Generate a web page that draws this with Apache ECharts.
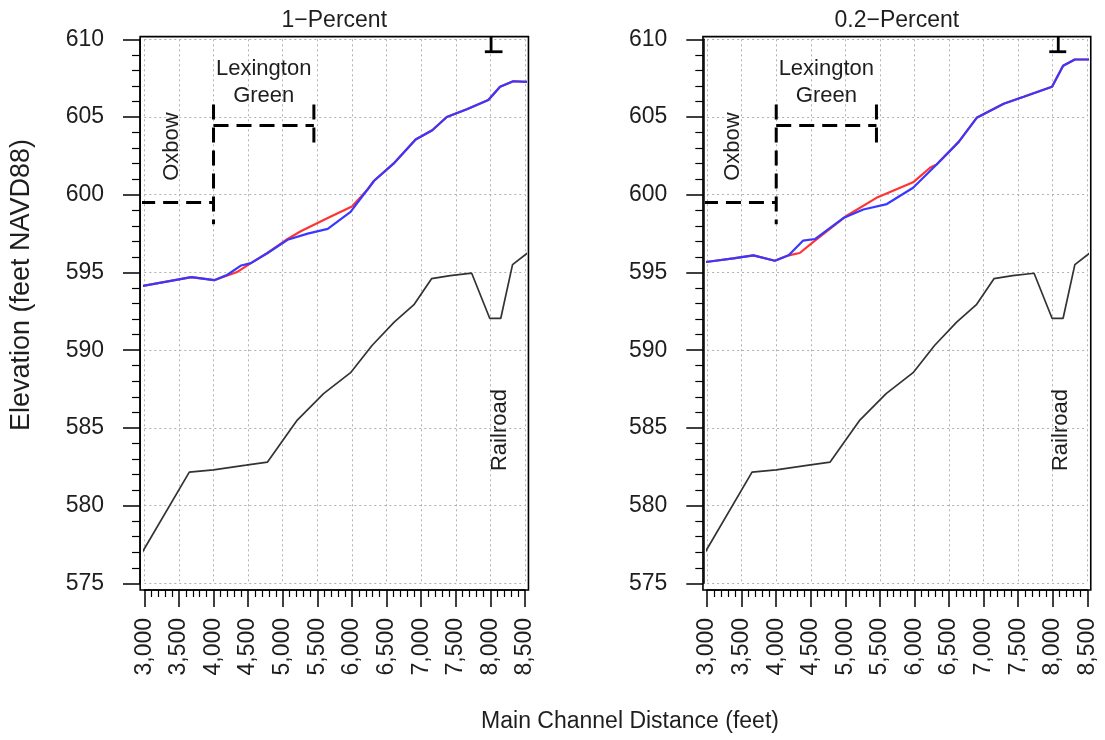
<!DOCTYPE html>
<html>
<head>
<meta charset="utf-8">
<script src="https://cdn.jsdelivr.net/npm/echarts@6/dist/echarts.min.js"></script>
<style>
  html, body { margin: 0; padding: 0; background: #fff; }
  #chart { width: 1105px; height: 740px; }
</style>
</head>
<body>
<div id="chart"></div>
<script>
  // channel invert profile (same in both panels)
  var groundX = [2945, 3650, 4000, 4470, 4780, 5210, 5590, 5980, 6290, 6610, 6900, 7150, 7420, 7730, 7990, 8150, 8320, 8550];
  var groundY = [576.8, 582.15, 582.3, 582.6, 582.8, 585.5, 587.2, 588.55, 590.3, 591.8, 592.95, 594.6, 594.8, 594.95, 592.05, 592.05, 595.5, 596.3];

  // 1-percent water surface
  var p1BlueX = [2945, 3680, 4010, 4200, 4400, 4540, 4780, 5070, 5360, 5650, 5980, 6320, 6600, 6920, 7160, 7370, 7660, 7970, 8140, 8330, 8550];
  var p1BlueY = [594.1, 594.7, 594.5, 594.85, 595.45, 595.6, 596.25, 597.1, 597.5, 597.8, 598.9, 600.9, 602.0, 603.55, 604.15, 605.0, 605.5, 606.1, 606.95, 607.3, 607.25];
  var p1RedX = [2945, 3680, 4010, 4200, 4350, 4540, 4780, 5070, 5260, 5650, 6000, 6220, 6320, 6600, 6920, 7160, 7370, 7660, 7970, 8140, 8330, 8550];
  var p1RedY = [594.1, 594.7, 594.5, 594.8, 595.05, 595.6, 596.25, 597.15, 597.65, 598.5, 599.25, 600.3, 600.9, 602.0, 603.55, 604.15, 605.0, 605.5, 606.1, 606.95, 607.3, 607.25];

  // 0.2-percent water surface
  var p02BlueX = [2945, 3380, 3670, 3980, 4180, 4390, 4560, 4970, 5260, 5600, 5980, 6320, 6640, 6900, 7290, 7580, 7990, 8150, 8320, 8550];
  var p02BlueY = [595.65, 595.9, 596.1, 595.75, 596.1, 597.05, 597.15, 598.5, 599.05, 599.4, 600.45, 601.95, 603.4, 604.95, 605.85, 606.3, 606.95, 608.3, 608.7, 608.7];
  var p02RedX = [2945, 3380, 3670, 3980, 4180, 4340, 4560, 5020, 5450, 5980, 6230, 6320, 6640, 6900, 7290, 7580, 7990, 8150, 8320, 8550];
  var p02RedY = [595.65, 595.9, 596.1, 595.75, 596.1, 596.25, 597.05, 598.65, 599.8, 600.8, 601.75, 601.95, 603.4, 604.95, 605.85, 606.3, 606.95, 608.3, 608.7, 608.7];

  // dashed reach limits: [x1, y1, x2, y2]
  var oxbowLine = [2940, 599.5, 4000, 599.5];
  var leftLimit = [4000, 605.8, 4000, 598.1];
  var greenTop = [4000, 604.45, 5450, 604.45];
  var greenRight = [5450, 605.8, 5450, 602.9];
  // railroad marker, per panel
  var railMarkX = [8010, 8080];
  var railBarX = [[7920, 8175], [7950, 8195]];
  var railMarkY = [610.17, 609.2];

  var panelTitles = ['1\u2212Percent', '0.2\u2212Percent'];
  var textLabels = [['Lexington', 4725, 608.1], ['Green', 4725, 606.35]];
  var rotLabels = [['Oxbow', [3396, 3379], 603.1], ['Railroad', [8141, 8113], 584.86]];

  var boxX = [2940, 8550];
  var boxY = [574.57, 610.17];

  var FONT = 'Liberation Sans, Arial, sans-serif';
  var TXT = '#1e1e1e';

  function zip(xs, ys) {
    return xs.map(function (x, i) { return [x, ys[i]]; });
  }

  var dom = document.getElementById("chart");
  var myChart = echarts.init(dom);

  var grids = [
    { left: 144.3, right: 580, top: 39.3, bottom: 156.7 },
    { left: 707.1, right: 17.7, top: 39.3, bottom: 156.7 }
  ];

  var xAxes = [], yAxes = [], series = [];
  var panels = [
    { blue: zip(p1BlueX, p1BlueY), red: zip(p1RedX, p1RedY) },
    { blue: zip(p02BlueX, p02BlueY), red: zip(p02RedX, p02RedY) }
  ];

  panels.forEach(function (p, i) {
    xAxes.push({
      type: 'value', gridIndex: i, min: 3000, max: 8500, interval: 500, offset: 6.7,
      axisLine: { show: true, lineStyle: { color: '#000', width: 1.5 } },
      axisTick: { show: true, length: 17, lineStyle: { color: '#000', width: 1.5 } },
      minorTick: { show: true, splitNumber: 5, length: 7, lineStyle: { color: '#000', width: 1.2 } },
      axisLabel: {
        rotate: 90, margin: 28, fontSize: 23, color: TXT, fontFamily: FONT,
        formatter: function (v) { return v.toLocaleString('en-US'); }
      },
      splitLine: { show: true, lineStyle: { color: '#b0b0b0', type: [2, 3], width: 1 } }
    });
    yAxes.push({
      type: 'value', gridIndex: i, min: 575, max: 610, interval: 5, offset: i === 0 ? 4.3 : 3.8,
      axisLine: { show: true, lineStyle: { color: '#000', width: 1.5 } },
      axisTick: { show: true, length: 17, lineStyle: { color: '#000', width: 1.5 } },
      minorTick: { show: true, splitNumber: 5, length: 8, lineStyle: { color: '#000', width: 1.2 } },
      axisLabel: { margin: 36, fontSize: 23, color: TXT, fontFamily: FONT },
      splitLine: { show: true, lineStyle: { color: '#b0b0b0', type: [2, 3], width: 1 } }
    });

    series.push({
      type: 'line', xAxisIndex: i, yAxisIndex: i, data: zip(groundX, groundY), clip: false,
      showSymbol: false, lineStyle: { color: '#333', width: 1.7 }
    });
    series.push({
      type: 'line', xAxisIndex: i, yAxisIndex: i, data: p.red, clip: false,
      showSymbol: false, lineStyle: { color: '#ff3333', width: 2.2 }
    });
    series.push({
      type: 'line', xAxisIndex: i, yAxisIndex: i, data: p.blue, clip: false,
      showSymbol: false, lineStyle: { color: '#3838ff', width: 2.2 }
    });

    [oxbowLine, leftLimit, greenTop, greenRight].forEach(function (s) {
      series.push({
        type: 'line', xAxisIndex: i, yAxisIndex: i, data: [[s[0], s[1]], [s[2], s[3]]], clip: false,
        showSymbol: false, lineStyle: { color: '#000', width: 3, type: [15, 8] }
      });
    });

    // railroad marker
    series.push({
      type: 'line', xAxisIndex: i, yAxisIndex: i, clip: false, showSymbol: false,
      data: [[railMarkX[i], railMarkY[0]], [railMarkX[i], railMarkY[1]]],
      lineStyle: { color: '#000', width: 2.8 }
    });
    series.push({
      type: 'line', xAxisIndex: i, yAxisIndex: i, clip: false, showSymbol: false,
      data: [[railBarX[i][0], railMarkY[1]], [railBarX[i][1], railMarkY[1]]],
      lineStyle: { color: '#000', width: 2.8 }
    });

    series.push({
      type: 'scatter', xAxisIndex: i, yAxisIndex: i, symbolSize: 0,
      itemStyle: { opacity: 1 },
      data: textLabels.map(function (t) { return [t[1], t[2], t[0]]; }),
      label: {
        show: true, position: 'inside', fontSize: 22, color: TXT, fontFamily: FONT,
        textBorderWidth: 0, opacity: 1,
        formatter: function (q) { return q.data[2]; }
      }
    });
    series.push({
      type: 'scatter', xAxisIndex: i, yAxisIndex: i, symbolSize: 0,
      itemStyle: { opacity: 1 },
      data: rotLabels.map(function (t) { return [t[1][i], t[2], t[0]]; }),
      label: {
        show: true, position: 'inside', rotate: 90, fontSize: 22, color: TXT, fontFamily: FONT,
        textBorderWidth: 0, opacity: 1,
        formatter: function (q) { return q.data[2]; }
      }
    });
  });

  option = {
    animation: false,
    grid: grids,
    xAxis: xAxes,
    yAxis: yAxes,
    series: series
  };
  myChart.setOption(option, true);

  // frames and free text
  var graphic = [];
  [0, 1].forEach(function (i) {
    var a = myChart.convertToPixel({ gridIndex: i }, [boxX[0], boxY[1]]);
    var b = myChart.convertToPixel({ gridIndex: i }, [boxX[1], boxY[0]]);
    graphic.push({
      type: 'rect', z: 100, silent: true,
      shape: { x: a[0], y: a[1], width: b[0] - a[0], height: b[1] - a[1] },
      style: { fill: 'none', stroke: '#000', lineWidth: 1.6 }
    });
    graphic.push({
      type: 'text', z: 100,
      style: {
        text: panelTitles[i], x: (a[0] + b[0]) / 2, y: 21, textAlign: 'center', textVerticalAlign: 'middle',
        fontSize: 23, fill: TXT, fontFamily: FONT
      }
    });
  });
  graphic.push({
    type: 'text', z: 100, x: 22, y: 285, rotation: Math.PI / 2,
    style: {
      text: 'Elevation (feet NAVD88)', x: 0, y: 0, textAlign: 'center', textVerticalAlign: 'middle',
      fontSize: 27, fill: TXT, fontFamily: FONT
    }
  });
  graphic.push({
    type: 'text', z: 100,
    style: {
      text: 'Main Channel Distance (feet)', x: 630, y: 722, textAlign: 'center', textVerticalAlign: 'middle',
      fontSize: 23, fill: TXT, fontFamily: FONT
    }
  });
  myChart.setOption({ graphic: graphic });
</script>
</body>
</html>
